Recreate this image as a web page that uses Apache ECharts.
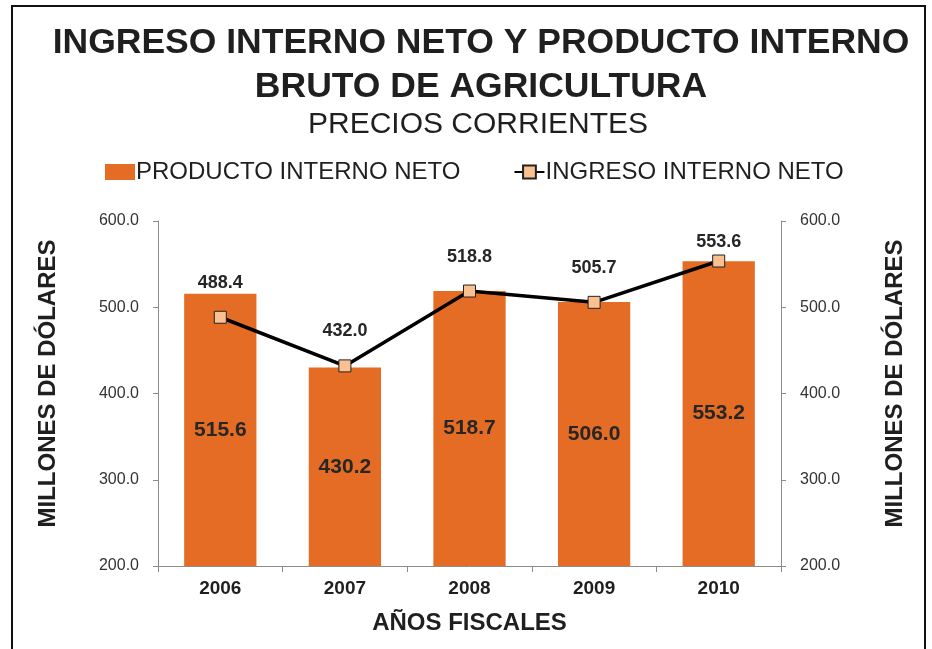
<!DOCTYPE html>
<html>
<head>
<meta charset="utf-8">
<script src="https://cdn.jsdelivr.net/npm/echarts@6/dist/echarts.min.js"></script>
<style>
  html, body { margin: 0; padding: 0; background: #fff; }
  #frame { position: absolute; left: 11px; top: 5px; width: 915px; height: 660px;
           border: 2px solid #111; box-sizing: border-box; }
  #chart { position: absolute; left: 0; top: 0; width: 932px; height: 649px; }
</style>
</head>
<body>
<div id="frame"></div>
<div id="chart"></div>
<script>
// Chart values
const years = ['2006', '2007', '2008', '2009', '2010'];
const productoInternoNeto = [515.6, 430.2, 518.7, 506.0, 553.2];
const ingresoInternoNeto = [488.4, 432.0, 518.8, 505.7, 553.6];

const font = 'Liberation Sans, Arial, sans-serif';
const axisGray = '#8c8c8c';
const ink = '#1f1f1f';

const chart = echarts.init(document.getElementById('chart'));

// Same look for both value axes
function valueAxis(pos) {
    return {
        type: 'value',
        position: pos,
        min: 200,
        max: 600,
        interval: 100,
        name: 'MILLONES DE DÓLARES',
        nameLocation: 'middle',
        nameGap: pos === 'left' ? 98 : 102,
        nameRotate: 90,
        nameTextStyle: {
            fontFamily: font, fontSize: 24, fontWeight: 'bold', color: ink,
            padding: [0, 0, 0, 20]
        },
        axisLine: { show: true, lineStyle: { color: axisGray, width: 1 } },
        axisTick: { show: true, length: 5, lineStyle: { color: axisGray } },
        splitLine: { show: false },
        axisLabel: {
            fontFamily: font, fontSize: 16, color: '#333', margin: 19,
            formatter: v => v.toFixed(1)
        }
    };
}

// last point's label sits closer to the marker (top of plot)
const lineData = ingresoInternoNeto.map((v, i) =>
    i === ingresoInternoNeto.length - 1 ? { value: v, label: { distance: 3 } } : v);

const option = {
    animation: false,
    title: [
        {
            text: 'INGRESO INTERNO NETO Y PRODUCTO INTERNO\nBRUTO DE AGRICULTURA',
            left: 476,
            top: 16,
            textAlign: 'center',
            textStyle: { fontFamily: font, fontSize: 35.5, fontWeight: 'bold', color: ink, lineHeight: 44 }
        },
        {
            text: 'PRECIOS CORRIENTES',
            left: 303,
            top: 105,
            textStyle: { fontFamily: font, fontSize: 30, fontWeight: 'normal', color: ink }
        }
    ],
    legend: {
        top: 155,
        left: 100,
        itemGap: 53,
        itemWidth: 30,
        itemHeight: 16,
        textStyle: { fontFamily: font, fontSize: 24, color: ink, padding: [0, 0, 0, -4] },
        data: [
            { name: 'PRODUCTO INTERNO NETO', icon: 'rect' },
            { name: 'INGRESO INTERNO NETO' }
        ]
    },
    grid: { left: 158, right: 151, top: 221, bottom: 83 },
    xAxis: {
        type: 'category',
        data: years,
        name: 'AÑOS FISCALES',
        nameLocation: 'middle',
        nameGap: 45,
        nameTextStyle: { fontFamily: font, fontSize: 24, fontWeight: 'bold', color: ink },
        axisLine: { lineStyle: { color: axisGray } },
        axisTick: { show: true, length: 6, lineStyle: { color: axisGray } },
        axisLabel: { fontFamily: font, fontSize: 19, fontWeight: 'bold', color: ink, margin: 13 }
    },
    yAxis: [valueAxis('left'), valueAxis('right')],
    series: [
        {
            name: 'PRODUCTO INTERNO NETO',
            type: 'bar',
            data: productoInternoNeto,
            barWidth: '58%',
            itemStyle: { color: '#e46c25' },
            label: {
                show: true,
                position: 'inside',
                fontFamily: font, fontSize: 21, fontWeight: 'bold', color: '#262626',
                formatter: p => p.value.toFixed(1)
            }
        },
        {
            name: 'INGRESO INTERNO NETO',
            type: 'line',
            data: lineData,
            symbol: 'rect',
            symbolSize: 12,
            lineStyle: { color: '#000', width: 3.5 },
            itemStyle: { color: '#fac090', borderColor: '#222', borderWidth: 1 },
            label: {
                show: true,
                position: 'top',
                distance: 19,
                fontFamily: font, fontSize: 18, fontWeight: 'bold', color: '#262626',
                formatter: p => p.value.toFixed(1)
            }
        }
    ]
};

chart.setOption(option);
</script>
</body>
</html>
